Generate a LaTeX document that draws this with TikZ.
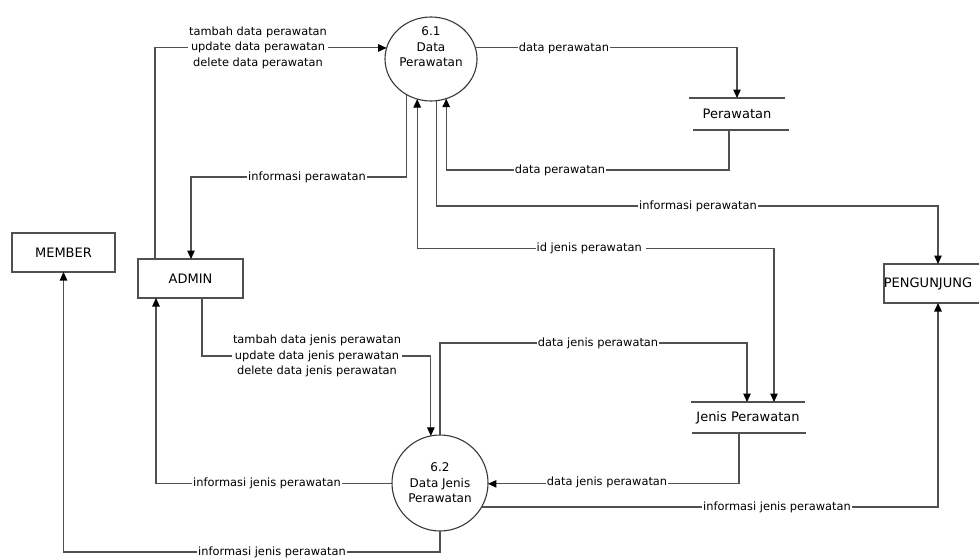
\documentclass[tikz,border=0pt]{standalone}
\usepackage{fontspec}
\setmainfont{DejaVu Sans}
\usetikzlibrary{arrows.meta,shapes.geometric}
\definecolor{linec}{HTML}{505050}
\definecolor{boxc}{HTML}{505050}
\definecolor{circc}{HTML}{383838}
\newcommand{\lblfont}{\fontsize{11.4}{15.5}\selectfont}
\newcommand{\entfont}{\fontsize{13}{15.5}\selectfont}
\newcommand{\procfont}{\fontsize{12}{15.5}\selectfont}
\begin{document}
\begin{tikzpicture}[x=1pt,y=-1pt,
  >={Triangle[length=8.5pt,width=7.5pt,color=black]},
  flow/.style={draw=linec, line width=1.1pt, ->},
  biflow/.style={draw=linec, line width=1.1pt, <->},
  lbl/.style={fill=white, inner xsep=1pt, inner ysep=0.5pt, font=\lblfont, align=center, text=black},
  entity/.style={draw=boxc, line width=1.1pt, minimum height=39pt, inner sep=0pt, outer sep=0pt, font=\entfont},
  enttext/.style={inner sep=0pt, font=\entfont},
  proctext/.style={inner sep=0pt, font=\procfont, align=center},
  procell/.style={draw=circc, line width=1.1pt, ellipse, minimum width=92pt, minimum height=84pt, inner sep=0pt, outer sep=0pt},
  proccirc/.style={draw=circc, line width=1.1pt, circle, minimum size=96pt, inner sep=0pt, outer sep=0pt, font=\procfont, align=center},
  store/.style={inner sep=0pt, outer sep=0pt, minimum height=32pt, font=\entfont},
  storeline/.style={draw=boxc, line width=1.1pt}
]
\fill[white] (0,0) rectangle (979,557);
\useasboundingbox (0,0) rectangle (979,557);

% processes
\node[procell] (c61) at (431,59) {};
\node[proctext] (t61) at (431,47) {6.1\\Data\\Perawatan};
\node[proccirc] (c62) at (440,483) {6.2\\Data Jenis\\Perawatan};

% external entities
\node[entity, minimum width=103pt] (member) at (63.5,252.5) {MEMBER};
\node[entity, minimum width=105pt] (admin) at (190.5,278.5) {ADMIN};
\node[entity, minimum width=106pt] (peng) at (937,283.5) {};
\node[enttext] (pengtxt) at (928,283.5) {PENGUNJUNG};

% data stores
\node[store, minimum width=96pt] (perawatan) at (737,114) {Perawatan};
\draw[storeline] (perawatan.north west) -- (perawatan.north east);
\draw[storeline] ([xshift=4pt]perawatan.south west) -- ([xshift=4pt]perawatan.south east);
\node[store, minimum width=114pt, minimum height=31pt] (jenis) at (748,417.5) {Jenis Perawatan};
\draw[storeline] (jenis.north west) -- (jenis.north east);
\draw[storeline] ([xshift=1pt]jenis.south west) -- ([xshift=1pt]jenis.south east);

% flows
\draw[flow] ([xshift=17pt]admin.north west) |- (c61.166);
\draw[flow] (c61.236) -- ++(0,82.2) -| ([xshift=53pt]admin.north west);
\draw[flow] (c61.14) -| (perawatan.north);
\draw[flow] ([xshift=-8pt]perawatan.south) -- ++(0,40) -| (c61.291);
\draw[flow] (c61.278) -- ++(0,105.3) -| ([xshift=1pt]peng.north);
\draw[biflow] (c61.251) -- ++(0,149) -| ([xshift=26pt]jenis.north);
\draw[flow] (c62.90) -- ++(0,-92) -| ([xshift=-1pt]jenis.north);
\draw[flow] ([xshift=11.5pt]admin.south) -- ++(0,58) -| (c62.101);
\draw[flow] ([xshift=-9pt]jenis.south) |- (c62.359);
\draw[flow] (c62.330) -| ([xshift=1pt]peng.south);
\draw[flow] (c62.181) -| ([xshift=18pt]admin.south west);
\draw[flow] (c62.270) -- ++(0,21) -| (member.south);

% labels
\node[lbl] (l1) at (258,47.7) {tambah data perawatan\\update data perawatan\\delete data perawatan};
\node[lbl] (l2) at (307,177) {informasi perawatan};
\node[lbl] (l3) at (564,47.9) {data perawatan};
\node[lbl] (l4) at (560,170) {data perawatan};
\node[lbl] (l5) at (698,206) {informasi perawatan};
\node[lbl] (l6) at (591,248) {id jenis perawatan\ };
\node[lbl] (l7) at (598,343) {data jenis perawatan};
\node[lbl] (l8) at (317,356) {tambah data jenis perawatan\\update data jenis perawatan\\delete data jenis perawatan};
\node[lbl] (l9) at (607,482.2) {data jenis perawatan};
\node[lbl] (l10) at (777,507) {informasi jenis perawatan};
\node[lbl] (l11) at (267,483.8) {informasi jenis perawatan};
\node[lbl] (l12) at (272,552) {informasi jenis perawatan};
\end{tikzpicture}
\end{document}
